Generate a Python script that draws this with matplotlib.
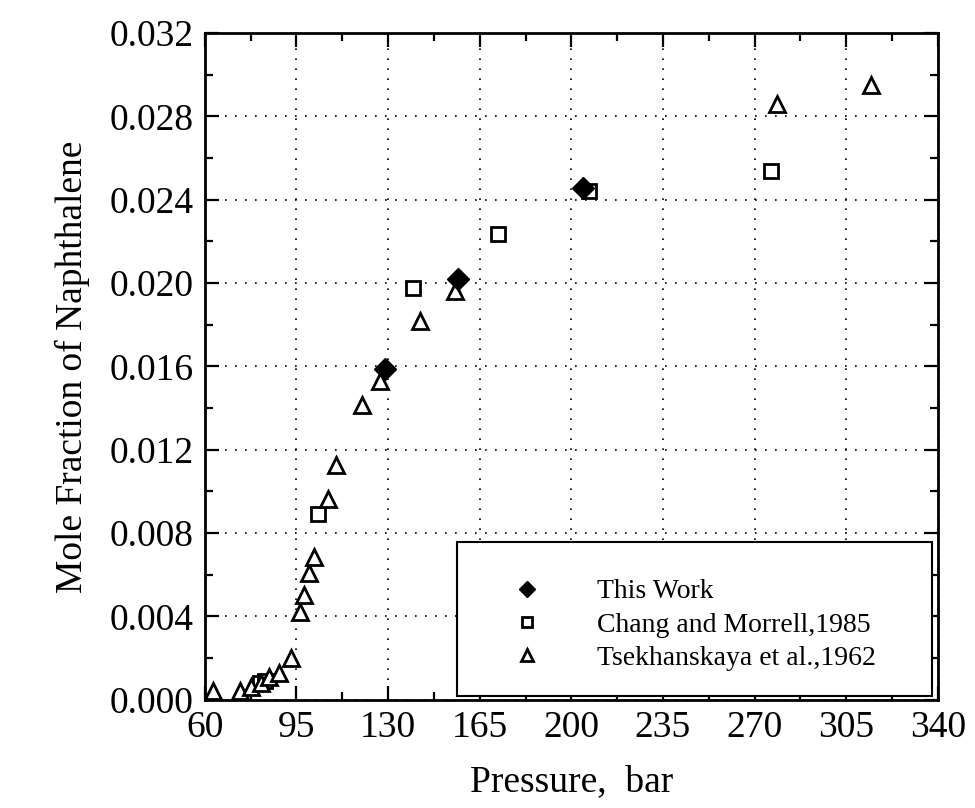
import matplotlib
matplotlib.use("Agg")
import matplotlib.pyplot as plt
from matplotlib.ticker import MultipleLocator, FormatStrFormatter
from matplotlib.patches import Rectangle

plt.rcParams['font.family'] = ['Liberation Serif', 'DejaVu Serif']

# This Work
work_p = [128.7, 156.6, 204.3]
work_x = [0.0159, 0.0202, 0.02455]

# Chang and Morrell, 1985
chang_p = [81.0, 83.0, 103.1, 139.4, 171.8, 206.6, 276.4]
chang_x = [0.0008, 0.0009, 0.0089, 0.01976, 0.02234, 0.0244, 0.02536]

# Tsekhanskaya et al., 1962
tsek_p = [63.0, 73.5, 77.5, 81.5, 84.5, 88.5, 92.8, 96.3, 97.8, 99.7, 101.6,
          106.9, 110.0, 119.9, 126.8, 142.1, 155.4, 278.7, 314.6]
tsek_x = [0.0004, 0.0004, 0.0006, 0.0008, 0.0011, 0.0013, 0.0020, 0.00421,
          0.00502, 0.00608, 0.00684, 0.00962, 0.01129, 0.01416, 0.01531,
          0.0182, 0.01962, 0.02861, 0.02952]

labels = ['This Work', 'Chang and Morrell,1985', 'Tsekhanskaya et al.,1962']

fig = plt.figure(figsize=(9.75, 8.08), dpi=100)
ax = fig.add_axes([0.21, 0.134, 0.752, 0.825])

ax.plot(chang_p, chang_x, 's', ms=10, mfc='white', mec='black', mew=2.0,
        label=labels[1], zorder=3)
ax.plot(tsek_p, tsek_x, '^', ms=11, mfc='white', mec='black', mew=2.0,
        label=labels[2], zorder=3)
ax.plot(work_p, work_x, 'D', ms=11, mfc='black', mec='black',
        label=labels[0], zorder=4)

ax.set_xlim(60, 340)
ax.set_ylim(0, 0.032)
ax.xaxis.set_major_locator(MultipleLocator(35, offset=25))
ax.xaxis.set_minor_locator(MultipleLocator(17.5, offset=7.5))
ax.yaxis.set_major_locator(MultipleLocator(0.004))
ax.yaxis.set_minor_locator(MultipleLocator(0.002))
ax.yaxis.set_major_formatter(FormatStrFormatter('%.3f'))

ax.grid(True, which='major', color='black', linestyle=(0, (1, 5)), linewidth=1.2)
ax.tick_params(which='both', direction='in', top=True, right=True,
               labelsize=27, width=1.6, pad=8)
ax.tick_params(which='major', length=10)
ax.tick_params(which='minor', length=6)
for s in ax.spines.values():
    s.set_linewidth(2)

ax.set_xlabel('Pressure,  bar', fontsize=27, labelpad=14)
ax.set_ylabel('Mole Fraction of Naphthalene', fontsize=27, labelpad=14)

# legend box
box = Rectangle((0.344, 0.005), 0.648, 0.232, transform=ax.transAxes,
                facecolor='white', edgecolor='black', linewidth=1.5, zorder=5)
ax.add_patch(box)
h, l = ax.get_legend_handles_labels()
order = [2, 0, 1]
leg = ax.legend([h[i] for i in order], [l[i] for i in order],
                loc='lower left', bbox_to_anchor=(0.368, 0.006), frameon=False,
                fontsize=20, handletextpad=1.5, labelspacing=0.28,
                markerscale=0.75)
leg.set_zorder(6)

fig.savefig('out.png', dpi=100)
